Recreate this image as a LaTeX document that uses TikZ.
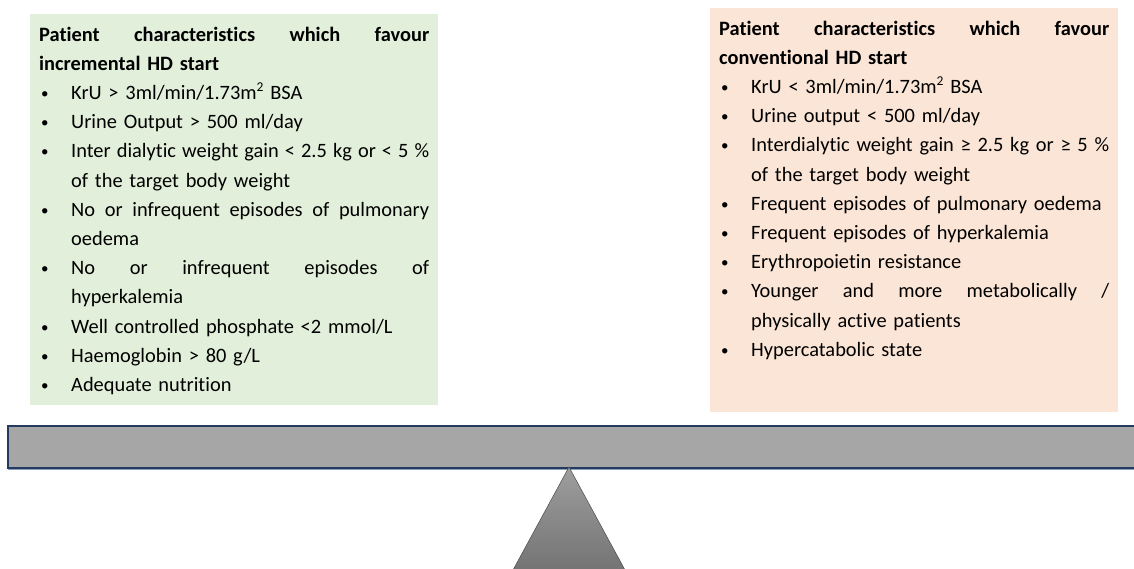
\documentclass[tikz,border=0pt]{standalone}
\usepackage{fontspec}
\setmainfont{Carlito}[Ligatures=NoCommon]
\definecolor{greenbg}{HTML}{E2EFDA}
\definecolor{pinkbg}{HTML}{FBE5D6}
\definecolor{barfill}{HTML}{A6A6A6}
\definecolor{barline}{HTML}{243A5E}
\definecolor{barshadow}{HTML}{8C9FBA}
\definecolor{tritop}{HTML}{9E9E9E}
\definecolor{tribot}{HTML}{747474}
\newcommand\bul{\makebox[32pt][l]{\hspace{2pt}\raisebox{1pt}{\fontsize{15}{15}\selectfont\textbullet}}}
\newcommand\js{\hspace{0.15em plus 1fill}}
\newcommand\jline[1]{\makebox[358pt][l]{#1}}
\newcommand\jhead[1]{\makebox[390pt][l]{\bfseries #1}}
\newcommand\ind{\hspace*{32pt}}
\newcommand\supr[1]{\raisebox{0.38em}{\fontsize{13.5}{13.5}\selectfont #1}}
\tikzset{
  listtext/.style={anchor=base west, inner sep=0pt, text width=390pt,
    font=\fontsize{20.4}{29.2}\selectfont},
  panel/.style={draw=none},
}
\begin{document}
\begin{tikzpicture}[x=1pt,y=-1pt]
\useasboundingbox (0,0) rectangle (1134,568);
\clip (0,0) rectangle (1134,568);
% panels
\path[panel, fill=greenbg] (30,14) rectangle (438,405);
\path[panel, fill=pinkbg] (710,8) rectangle (1118,412);
% left text
\node[listtext] (left) at (39,41) {\noindent
\jhead{Patient\js characteristics\js which\js favour}\\
{\bfseries incremental HD start}\\
\bul KrU > 3ml/min/1.73m\supr{2} BSA\\
\bul Urine Output > 500 ml/day\\
\bul\jline{Inter\js dialytic\js weight\js gain\js <\js 2.5\js kg\js or\js <\js 5\js \%}\\
\ind of the target body weight\\
\bul\jline{No\js or\js infrequent\js episodes\js of\js pulmonary}\\
\ind oedema\\
\bul\jline{No\js or\js infrequent\js episodes\js of}\\
\ind hyperkalemia\\
\bul Well controlled phosphate <2 mmol/L\\
\bul Haemoglobin > 80 g/L\\
\bul Adequate nutrition};
% right text
\node[listtext] (right) at (719,35) {\noindent
\jhead{Patient\js characteristics\js which\js favour}\\
{\bfseries conventional HD start}\\
\bul KrU < 3ml/min/1.73m\supr{2} BSA\\
\bul Urine output < 500 ml/day\\
\bul\jline{Interdialytic\js weight\js gain\js ≥\js 2.5\js kg\js or\js ≥\js 5\js \%}\\
\ind of the target body weight\\
\bul Frequent episodes of pulmonary oedema\\
\bul Frequent episodes of hyperkalemia\\
\bul Erythropoietin resistance\\
\bul\jline{Younger\js and\js more\js metabolically\js /}\\
\ind physically active patients\\
\bul Hypercatabolic state};
% beam
\draw[barshadow, line width=1.2pt] (8,469.5) -- (1140,469.5);
\draw[barline, line width=1.3pt, fill=barfill] (1140,426) -- (8,426) -- (8,468) -- (1140,468);
% fulcrum
\shade[top color=tritop, bottom color=tribot, draw=black!70, line width=0.5pt]
  (569,467) -- (625,570) -- (513,570) -- cycle;
\end{tikzpicture}
\end{document}
